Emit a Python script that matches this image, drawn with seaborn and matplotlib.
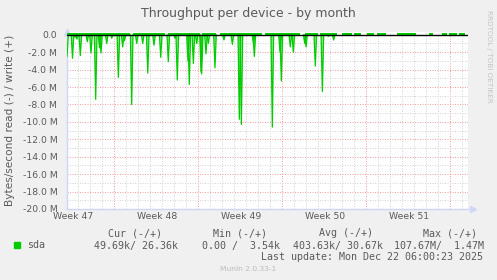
import numpy as np
import pandas as pd
import matplotlib
matplotlib.use("Agg")
import matplotlib.pyplot as plt
import seaborn as sns

# ---------------- data ----------------
title = "Throughput per device - by month"
ylabel = "Bytes/second read (-) / write (+)"
week_labels = ["Week 47", "Week 48", "Week 49", "Week 50", "Week 51"]
week_label_day = [0.5, 7.5, 14.5, 21.5, 28.5]       # days from left edge
week_bound_day = [3.94, 10.94, 17.94, 24.94, 31.94]
y_ticks = [0, -2, -4, -6, -8, -10, -12, -14, -16, -18, -20]
y_labels = ["0.0", "-2.0 M", "-4.0 M", "-6.0 M", "-8.0 M", "-10.0 M",
            "-12.0 M", "-14.0 M", "-16.0 M", "-18.0 M", "-20.0 M"]

# read spikes (day, MB/s, drawn negative)
read_day = [0.0, 0.46, 0.67, 0.83, 1.11, 1.69, 2.0, 2.39, 2.71, 2.83, 3.31, 3.73,
            4.28, 4.64, 4.79, 5.39, 5.81, 6.31, 6.73, 7.25, 7.81, 8.44, 9.0, 9.19,
            10.08, 10.19, 10.53, 10.81, 11.17, 11.22, 11.58, 11.78, 12.33, 13.08,
            13.78, 14.36, 14.53, 15.54, 15.61, 17.11, 17.75, 17.86, 18.61, 18.86,
            19.81, 19.92, 20.69, 21.28, 21.78, 22.22]
read_mb = [2.5, 2.7, 0.3, 0.5, 2.4, 0.8, 2.1, 7.4, 1.5, 2.1, 1.0, 0.4,
           4.9, 1.4, 0.7, 8.0, 1.0, 1.0, 4.4, 1.2, 2.6, 3.1, 0.4, 5.2,
           3.0, 5.7, 3.3, 1.0, 4.3, 4.5, 2.2, 1.0, 3.8, 0.6,
           1.1, 9.7, 10.3, 1.0, 2.5, 10.6, 2.0, 5.3, 1.4, 2.0,
           1.0, 1.4, 3.6, 6.5, 0.2, 0.6]

# write activity segments (day start, day end, MB/s)
write_start = [0.0, 5.5, 8.42, 11.25, 12.75, 16.5, 19.83, 21.08, 22.92, 23.92,
               25.0, 25.83, 27.5, 30.17, 31.25, 31.83, 32.67]
write_end = [5.25, 8.17, 11.08, 12.42, 16.25, 19.42, 20.92, 22.5, 23.75, 24.5,
             25.58, 26.58, 29.08, 30.5, 31.67, 32.5, 33.17]
write_mb = [0.25] * 17

legend_name = "sda"
legend_header = ["Cur (-/+)", "Min (-/+)", "Avg (-/+)", "Max (-/+)"]
legend_values = ["49.69k/ 26.36k", "0.00 /  3.54k", "403.63k/ 30.67k", "107.67M/  1.47M"]
last_update = "Last update: Mon Dec 22 06:00:23 2025"
footer = "Munin 2.0.33-1"
side_text = "RRDTOOL / TOBI OETIKER"

# ---------------- style ----------------
sns.set_theme(style="white")
plt.rcParams["font.family"] = ["DejaVu Sans"]
GREEN = "#00CC00"
FONT = "#5a5a5a"
AXIS = "#CFD6F8"
GRID = "#D4D4D4"
MGRID = "#F4A0A0"

W, H = 497, 280
fig = plt.figure(figsize=(W / 100, H / 100), dpi=100, facecolor="#F0F0F0")
L, R, T, B = 67, 467.7, 31.5, 209
ax = fig.add_axes([L / W, 1 - B / H, (R - L) / W, (B - T) / H])
ax.set_facecolor("white")
ax.set_xlim(0, 33.39)
ax.set_ylim(-20, 0.37)

# grid
dash = (0, (1, 1.5))
for d in np.arange(week_bound_day[0] - 3, 33.39, 1.0):
    if d > 0.2 and not any(abs(d - wb) < 0.01 for wb in week_bound_day):
        ax.axvline(d, color=GRID, lw=0.72, ls=dash, zorder=0)
for wb in week_bound_day:
    ax.axvline(wb, color=MGRID, lw=0.72, ls=dash, zorder=0)
for yv in range(-19, 0, 2):
    ax.axhline(yv, color=GRID, lw=0.72, ls=dash, zorder=0)
for yv in y_ticks[1:-1]:
    ax.axhline(yv, color=MGRID, lw=0.72, ls=dash, zorder=0)

# read spikes
hw = 0.11
rows = []
for i, (t, d) in enumerate(zip(read_day, read_mb)):
    ax.fill([t - hw, t, t + hw], [0, -d, 0], color=GREEN, alpha=0.45, lw=0, zorder=2)
    rows += [(i, t - hw, 0.0), (i, t, -d), (i, t + hw, 0.0)]
df = pd.DataFrame(rows, columns=["spike", "day", "val"])
sns.lineplot(data=df, x="day", y="val", units="spike", estimator=None, sort=False,
             color=GREEN, lw=0.9, ax=ax, zorder=3, legend=False)

# write band
ax.bar(write_start, write_mb, width=np.array(write_end) - np.array(write_start),
       align="edge", color=GREEN, lw=0, zorder=3)
ax.axhline(0, color="black", lw=1.0, zorder=5)

# axes
for s in ["top", "right"]:
    ax.spines[s].set_visible(False)
for s in ["left", "bottom"]:
    ax.spines[s].set_color(AXIS)
    ax.spines[s].set_linewidth(1.0)
ax.plot([0], [1.0], marker="^", ms=4.5, color=AXIS, transform=ax.transAxes, clip_on=False)
ax.plot([1.012], [0], marker=">", ms=4.5, color=AXIS, transform=ax.transAxes, clip_on=False)

ax.set_yticks(y_ticks)
ax.set_yticklabels(y_labels)
ax.set_xticks(week_label_day)
ax.set_xticklabels(week_labels)
ax.tick_params(axis="y", length=0, pad=7, labelsize=6.7, labelcolor=FONT)
ax.tick_params(axis="x", length=0, pad=2, labelsize=6.7, labelcolor=FONT)
ax.set_xlabel("")
ax.set_ylabel("")

fig.text(248 / W, 1 - 13 / H, title, ha="center", va="center", fontsize=9, color=FONT)
fig.text(10 / W, 1 - 120 / H, ylabel, ha="center", va="center", rotation=90,
         fontsize=7.6, color=FONT)
fig.text(489 / W, 1 - 56 / H, side_text, ha="center", va="center", rotation=270,
         fontsize=5.2, color="#C4C4C4")

# legend (monospace)
mono = dict(family="DejaVu Sans Mono", fontsize=7.2, color=FONT, va="center")
hdr_x = [108, 213, 319, 423]
val_x = [94, 202, 293, 394]
for x, s in zip(hdr_x, legend_header):
    fig.text(x / W, 1 - 233 / H, s, **mono)
for x, s in zip(val_x, legend_values):
    fig.text(x / W, 1 - 245.5 / H, s, **mono)
fig.text(27 / W, 1 - 245.5 / H, legend_name, **mono)
fig.text(261 / W, 1 - 257.5 / H, last_update, **mono)
fig.patches.append(plt.Rectangle((14 / W, 1 - 248 / H), 6 / W, 6 / H,
                                 transform=fig.transFigure, color=GREEN))
fig.text(248 / W, 1 - 269 / H, footer, ha="center", va="center", fontsize=5.4,
         color="#BBBBBB")

fig.savefig("out.png", dpi=100, facecolor=fig.get_facecolor())
